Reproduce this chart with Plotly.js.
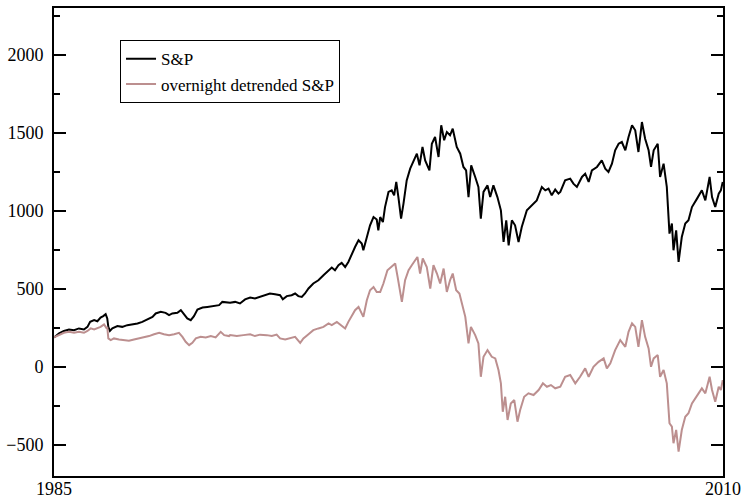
<!DOCTYPE html>
<html>
<head>
<meta charset="utf-8">
<script src="https://cdn.plot.ly/plotly-3.0.1.min.js"></script>
<style>
  html, body { margin: 0; padding: 0; background: #fff; }
  #chart { width: 743px; height: 499px; }
</style>
</head>
<body>
<div id="chart"></div>
<script>
// S&P 500 level, 1985-2010 (decimal year, index points)
const spYears = [
  1985.00,1985.19,1985.37,1985.56,1985.75,1985.93,1986.12,1986.25,1986.35,1986.50,1986.62,1986.74,1986.84,1986.93,1986.99,
  1987.03,1987.09,1987.18,1987.37,1987.55,1987.74,1987.93,1988.12,1988.30,1988.49,1988.68,1988.80,1988.99,1989.17,1989.30,
  1989.42,1989.61,1989.74,1989.86,1989.98,1990.11,1990.23,1990.36,1990.55,1990.73,1990.92,1991.17,1991.29,1991.48,
  1991.58,1991.77,1991.95,1992.14,1992.33,1992.51,1992.70,1992.89,1993.07,1993.26,1993.45,1993.55,1993.70,1993.88,1994.01,
  1994.13,1994.26,1994.38,1994.51,1994.69,1994.88,1995.07,1995.26,1995.38,1995.50,1995.63,1995.75,1995.88,1996.00,1996.13,
  1996.25,1996.38,1996.50,1996.56,1996.69,1996.81,1996.94,1997.06,1997.12,
  1997.19,1997.29,1997.37,1997.50,1997.62,1997.71,1997.79,1997.87,1997.97,1998.06,1998.18,1998.31,1998.43,1998.56,1998.66,
  1998.77,1998.87,1999.03,1999.12,1999.24,1999.37,1999.47,1999.58,1999.68,1999.80,1999.90,2000.05,2000.18,2000.30,2000.40,
  2000.49,2000.59,2000.74,2000.86,2000.95,2001.05,2001.20,2001.30,2001.42,2001.57,2001.70,2001.80,2001.90,2001.99,2002.11,
  2002.23,2002.36,2002.48,2002.67,2002.86,2003.04,2003.23,2003.36,2003.48,2003.60,2003.73,2003.85,
  2003.92,2004.10,2004.29,2004.41,2004.54,2004.73,2004.85,2004.98,2005.10,2005.29,2005.47,2005.60,2005.72,2005.85,2005.97,
  2006.10,2006.22,2006.35,2006.47,2006.60,2006.72,2006.84,2006.97,2007.09,2007.22,2007.31,2007.41,2007.56,2007.65,2007.78,
  2007.90,2008.00,2008.09,2008.15,2008.25,2008.34,2008.46,2008.59,2008.71,2008.84,2009.03,2009.21,2009.34,2009.50,2009.59,
  2009.71,2009.84,2009.92,2009.99
];
const spValues = [
  188,214,230,239,235,246,239,256,288,299,292,316,325,337,310,
  256,230,246,261,256,267,272,278,288,303,320,342,352,346,331,
  342,346,363,335,310,299,325,367,380,384,389,395,416,410,
  410,416,406,432,444,438,448,459,470,465,459,433,453,459,470,
  453,448,470,502,534,555,587,619,636,619,651,666,640,672,726,
  768,811,790,747,832,907,960,944,875,
  960,928,1024,1121,1131,1099,1185,1088,950,1046,1195,1270,1313,1366,1291,
  1409,1323,1259,1430,1473,1345,1548,1452,1505,1484,1526,1409,1366,1281,1259,
  1088,1291,1217,1153,950,1121,1163,1088,1163,1088,1003,800,939,779,939,
  907,800,896,1003,1035,1067,1153,1131,1142,1099,1136,1110,
  1121,1195,1206,1174,1153,1217,1238,1185,1259,1281,1323,1270,1249,1302,1388,
  1430,1441,1388,1473,1548,1516,1377,1569,1462,1388,1281,1388,1430,1217,1302,
  1153,854,918,747,875,672,832,918,939,1024,1078,1131,1067,1217,1088,
  1024,1110,1131,1185
];

// Overnight detrended S&P, same period
const detYears = [
  1985.00,1985.19,1985.37,1985.56,1985.75,1985.93,1986.12,1986.25,1986.37,1986.50,1986.62,1986.74,1986.87,1986.97,1986.99,
  1987.03,1987.12,1987.24,1987.43,1987.62,1987.80,1987.99,1988.18,1988.36,1988.55,1988.74,1988.93,1989.11,1989.30,1989.49,
  1989.67,1989.80,1989.92,1990.05,1990.17,1990.30,1990.48,1990.67,1990.86,1991.04,1991.23,1991.36,1991.54,
  1991.58,1991.83,1992.08,1992.33,1992.51,1992.70,1992.95,1993.14,1993.32,1993.45,1993.64,1993.82,1994.01,1994.20,1994.32,
  1994.51,1994.69,1994.88,1995.07,1995.26,1995.38,1995.57,1995.75,1995.88,1996.00,1996.13,1996.25,1996.38,1996.56,1996.69,
  1996.81,1996.94,1997.06,
  1997.19,1997.31,1997.46,1997.62,1997.75,1997.84,1998.00,1998.12,1998.25,1998.37,1998.50,1998.58,1998.68,1998.78,1998.93,
  1999.06,1999.18,1999.31,1999.43,1999.56,1999.68,1999.80,1999.90,2000.03,2000.15,2000.24,2000.37,2000.49,2000.58,2000.74,
  2000.86,2000.95,2001.05,2001.20,2001.36,2001.49,2001.61,2001.70,2001.77,2001.86,2001.95,2002.07,2002.20,2002.32,2002.42,
  2002.57,2002.73,2002.92,2003.11,2003.27,2003.42,2003.57,2003.73,
  2003.92,2004.10,2004.29,2004.48,2004.66,2004.85,2004.98,2005.16,2005.35,2005.54,2005.66,2005.79,2005.97,2006.16,2006.35,
  2006.47,2006.60,2006.72,2006.84,2006.97,2007.09,2007.22,2007.31,2007.41,2007.56,2007.65,2007.78,2007.90,2008.00,2008.09,
  2008.15,2008.25,2008.34,2008.46,2008.59,2008.71,2008.84,2009.03,2009.21,2009.34,2009.50,2009.59,2009.71,2009.84,2009.92,
  2009.99
];
const detValues = [
  188,203,218,224,218,224,218,230,246,239,246,256,272,246,256,
  182,171,182,175,171,167,175,182,188,197,209,218,209,203,209,
  218,192,160,139,154,182,192,188,197,188,224,203,197,
  203,197,203,209,197,206,203,197,206,182,175,182,192,154,182,
  209,235,246,256,278,267,288,267,246,288,331,363,384,320,427,
  491,512,480,
  480,534,619,640,662,576,416,555,619,651,683,704,598,694,640,
  502,651,598,534,630,480,555,598,491,470,406,320,150,256,203,
  150,-64,64,107,64,54,-21,-106,-288,-192,-341,-235,-213,-352,-277,
  -192,-170,-181,-149,-106,-128,-117,-138,
  -128,-64,-53,-106,-64,-10,-64,0,32,54,-10,22,107,171,128,
  224,278,256,128,299,192,118,0,54,75,-64,-21,-106,-362,-384,
  -490,-405,-544,-405,-320,-298,-235,-181,-138,-170,-64,-149,-224,-128,-149,
  -85
];

const seriesNames = ['S&P', 'overnight detrended S&P'];
const xTickVals = [1985, 2010];
const xTickText = ['1985', '2010'];
const yTickVals = [-500, 0, 500, 1000, 1500, 2000];

const serif = "'Liberation Serif', 'Times New Roman', serif";

const traces = [
  {
    x: spYears, y: spValues, name: seriesNames[0],
    type: 'scatter', mode: 'lines',
    line: { color: '#000000', width: 2 }
  },
  {
    x: detYears, y: detValues, name: seriesNames[1],
    type: 'scatter', mode: 'lines',
    line: { color: '#bc8f8f', width: 2 }
  }
];

const layout = {
  width: 743, height: 499,
  margin: { l: 54, r: 20, t: 8, b: 23 },
  paper_bgcolor: '#ffffff', plot_bgcolor: '#ffffff',
  font: { family: serif, size: 18, color: '#000000' },
  showlegend: true,
  legend: {
    x: 0.0987, y: 0.931, xanchor: 'left', yanchor: 'top',
    bgcolor: '#ffffff', bordercolor: '#000000', borderwidth: 1,
    font: { family: serif, size: 17, color: '#000000' },
    itemwidth: 30, tracegroupgap: 0
  },
  xaxis: {
    range: [1985, 2010],
    tickmode: 'array', tickvals: xTickVals, ticktext: xTickText,
    ticks: '', showgrid: false, zeroline: false,
    showline: true, linecolor: '#000000', linewidth: 2, mirror: true,
    ticklabelstandoff: -5,
    tickfont: { family: serif, size: 18, color: '#000000' }
  },
  yaxis: {
    range: [-700, 2300],
    tickmode: 'array', tickvals: yTickVals,
    ticks: 'inside', ticklen: 12, tickwidth: 1.5, tickcolor: '#000000',
    minor: { ticks: 'inside', ticklen: 6, tickwidth: 1.5, tickcolor: '#000000', dtick: 250, tick0: 0, showgrid: false },
    showgrid: false, zeroline: false,
    showline: true, linecolor: '#000000', linewidth: 2, mirror: 'ticks',
    ticklabelstandoff: 5,
    tickfont: { family: serif, size: 18, color: '#000000' }
  }
};

Plotly.newPlot('chart', traces, layout, { displayModeBar: false, staticPlot: true });
</script>
</body>
</html>
